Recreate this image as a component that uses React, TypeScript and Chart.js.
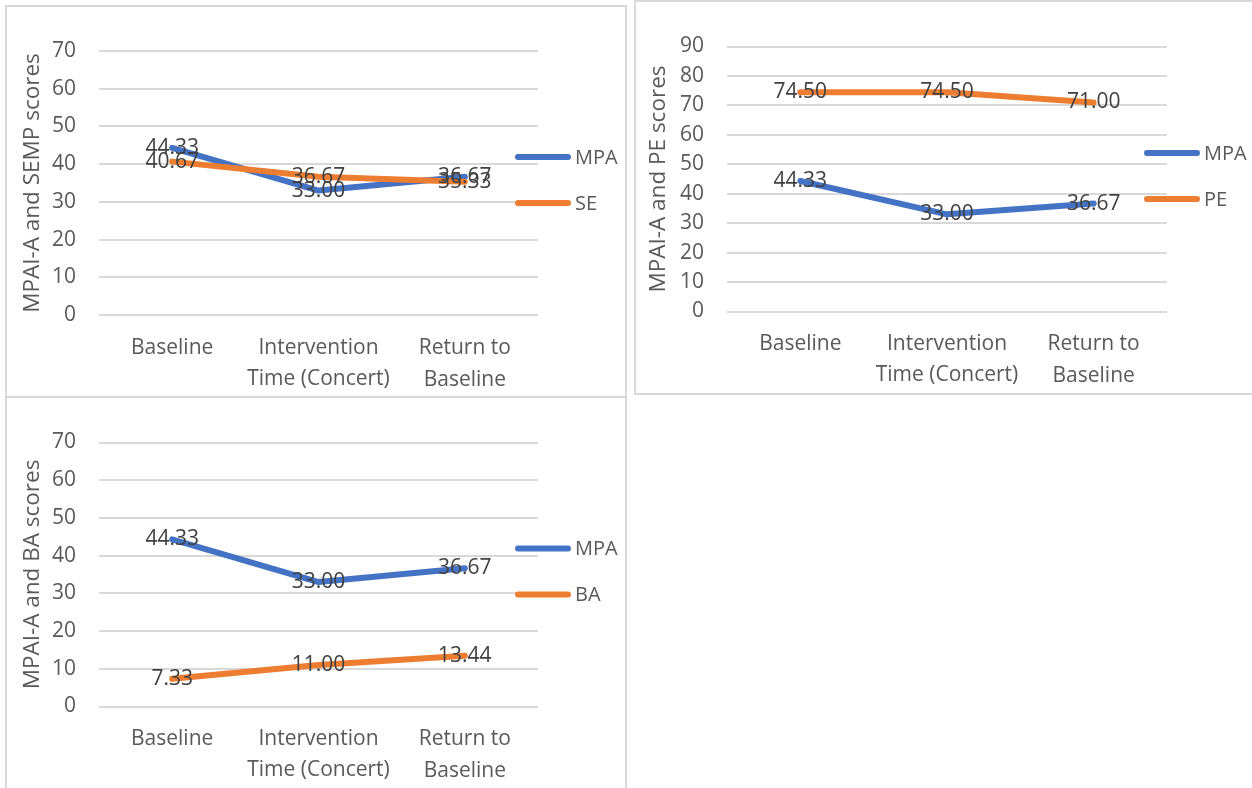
import React, { useEffect, useRef } from "react";
import { Chart, registerables } from "chart.js";

Chart.register(...registerables);

// Measurement occasions along the x axis
const timePoints: (string | string[])[] = ["Baseline", "Intervention", ["Return to", "Baseline"]];
const timeAxisTitle = "Time (Concert)";

// Mean scores per occasion
const mpaScores = [44.33, 33.0, 36.67];
const seScores = [40.67, 36.67, 35.33];
const peScores = [74.5, 74.5, 71.0];
const baScores = [7.33, 11.0, 13.44];

// Y-axis ranges
const semMax = 70;
const peMax = 90;
const baMax = 70;
const yStep = 10;

const FONT = "'Open Sans', 'Liberation Sans', sans-serif";
const BLUE = "#4472C4";
const ORANGE = "#ED7D31";
const AXIS_TEXT = "#595959";
const VALUE_TEXT = "#404040";
const GRID = "#d9d9d9";

// Writes each point's value centred on the point
const valueLabels = {
  id: "valueLabels",
  afterDatasetsDraw(chart: any) {
    const ctx = chart.ctx as CanvasRenderingContext2D;
    ctx.save();
    ctx.font = `21px ${FONT}`;
    ctx.fillStyle = VALUE_TEXT;
    ctx.textAlign = "center";
    ctx.textBaseline = "middle";
    chart.data.datasets.forEach((ds: any, i: number) => {
      const meta = chart.getDatasetMeta(i);
      meta.data.forEach((pt: any, j: number) => {
        ctx.fillText(Number(ds.data[j]).toFixed(2), pt.x, pt.y);
      });
    });
    ctx.restore();
  },
};

// Line-swatch legend sitting at the right edge of the plot
const sideLegend = {
  id: "sideLegend",
  afterDraw(chart: any) {
    const ctx = chart.ctx as CanvasRenderingContext2D;
    const area = chart.chartArea;
    const x0 = area.right - 23;
    const midY = (area.top + area.bottom) / 2 - 3;
    const n = chart.data.datasets.length;
    ctx.save();
    ctx.font = `20px ${FONT}`;
    ctx.textAlign = "left";
    ctx.textBaseline = "middle";
    chart.data.datasets.forEach((ds: any, i: number) => {
      const y = midY + (i - (n - 1) / 2) * 46;
      ctx.strokeStyle = ds.borderColor;
      ctx.lineWidth = 6;
      ctx.lineCap = "round";
      ctx.beginPath();
      ctx.moveTo(x0 + 3, y);
      ctx.lineTo(x0 + 53, y);
      ctx.stroke();
      ctx.fillStyle = AXIS_TEXT;
      ctx.fillText(ds.label, x0 + 60, y + 1);
    });
    ctx.restore();
  },
};

type PanelSpec = {
  yTitle: string;
  yMax: number;
  second: { label: string; data: number[] };
  padTop: number;
  padRight: number;
  yWidth: number;
  xHeight: number;
  yTitlePad: number;
};

function buildConfig(spec: PanelSpec): any {
  const tickFont = { family: FONT, size: 21, lineHeight: 1.52 };
  return {
    type: "line",
    data: {
      labels: timePoints,
      datasets: [
        {
          label: "MPA",
          data: mpaScores,
          borderColor: BLUE,
          backgroundColor: BLUE,
          order: 2,
        },
        {
          label: spec.second.label,
          data: spec.second.data,
          borderColor: ORANGE,
          backgroundColor: ORANGE,
          order: 1,
        },
      ],
    },
    options: {
      responsive: false,
      devicePixelRatio: 1,
      animation: false,
      layout: { padding: { top: spec.padTop, right: spec.padRight, bottom: 0, left: 0 } },
      elements: {
        line: {
          borderWidth: 6,
          tension: 0,
          borderCapStyle: "round",
          borderJoinStyle: "round",
          fill: false,
        },
        point: { radius: 0, hoverRadius: 0 },
      },
      plugins: {
        legend: { display: false },
        tooltip: { enabled: false },
      },
      scales: {
        x: {
          type: "category",
          offset: true,
          grid: { display: false },
          border: { display: false },
          ticks: {
            color: AXIS_TEXT,
            font: tickFont,
            padding: 9,
            maxRotation: 0,
            autoSkip: false,
          },
          title: {
            display: true,
            text: timeAxisTitle,
            color: AXIS_TEXT,
            font: tickFont,
            padding: { top: 0, bottom: 2 },
          },
          afterFit(scale: any) {
            scale.height = spec.xHeight;
          },
        },
        y: {
          min: 0,
          max: spec.yMax,
          grid: { color: GRID, lineWidth: 2, drawTicks: false },
          border: { display: false },
          ticks: {
            stepSize: yStep,
            color: AXIS_TEXT,
            font: { family: FONT, size: 21 },
            padding: 23,
          },
          title: {
            display: true,
            text: spec.yTitle,
            color: AXIS_TEXT,
            font: { family: FONT, size: 22.5 },
            padding: { top: spec.yTitlePad, bottom: 0 },
          },
          afterFit(scale: any) {
            scale.width = spec.yWidth;
          },
        },
      },
    },
    plugins: [valueLabels, sideLegend],
  };
}

type BoxProps = {
  left: number;
  top: number;
  width: number;
  height: number;
  noRight?: boolean;
  noBottom?: boolean;
  spec: PanelSpec;
};

function ChartPanel({ left, top, width, height, noRight, noBottom, spec }: BoxProps) {
  const ref = useRef<HTMLCanvasElement>(null);
  const cw = width - 2 - (noRight ? 0 : 2);
  const ch = height - 2 - (noBottom ? 0 : 2);
  useEffect(() => {
    const chart = new Chart(ref.current as HTMLCanvasElement, buildConfig(spec));
    return () => chart.destroy();
  }, []);
  return (
    <div
      style={{
        position: "absolute",
        left,
        top,
        width,
        height,
        boxSizing: "border-box",
        background: "#fff",
        borderTop: `2px solid ${GRID}`,
        borderLeft: `2px solid ${GRID}`,
        borderRight: noRight ? "none" : `2px solid ${GRID}`,
        borderBottom: noBottom ? "none" : `2px solid ${GRID}`,
      }}
    >
      <canvas ref={ref} width={cw} height={ch} style={{ display: "block", width: cw, height: ch }} />
    </div>
  );
}

export default function App() {
  useEffect(() => {
    document.body.style.overflow = "hidden";
  }, []);
  return (
    <div style={{ position: "absolute", left: 0, top: 0, width: 1252, height: 788, background: "#fff", overflow: "hidden" }}>
      <ChartPanel
        left={5}
        top={5}
        width={622}
        height={394}
        spec={{
          yTitle: "MPAI-A and SEMP scores",
          yMax: semMax,
          second: { label: "SE", data: seScores },
          padTop: 44,
          padRight: 87,
          yWidth: 92,
          xHeight: 82,
          yTitlePad: 12,
        }}
      />
      <ChartPanel
        left={634}
        top={0}
        width={618}
        height={395}
        noRight
        spec={{
          yTitle: "MPAI-A and PE scores",
          yMax: peMax,
          second: { label: "PE", data: peScores },
          padTop: 44.5,
          padRight: 85,
          yWidth: 91,
          xHeight: 81.5,
          yTitlePad: 9,
        }}
      />
      <ChartPanel
        left={5}
        top={396}
        width={622}
        height={392}
        noBottom
        spec={{
          yTitle: "MPAI-A and BA scores",
          yMax: baMax,
          second: { label: "BA", data: baScores },
          padTop: 44.5,
          padRight: 87,
          yWidth: 92,
          xHeight: 81.5,
          yTitlePad: 12,
        }}
      />
    </div>
  );
}
